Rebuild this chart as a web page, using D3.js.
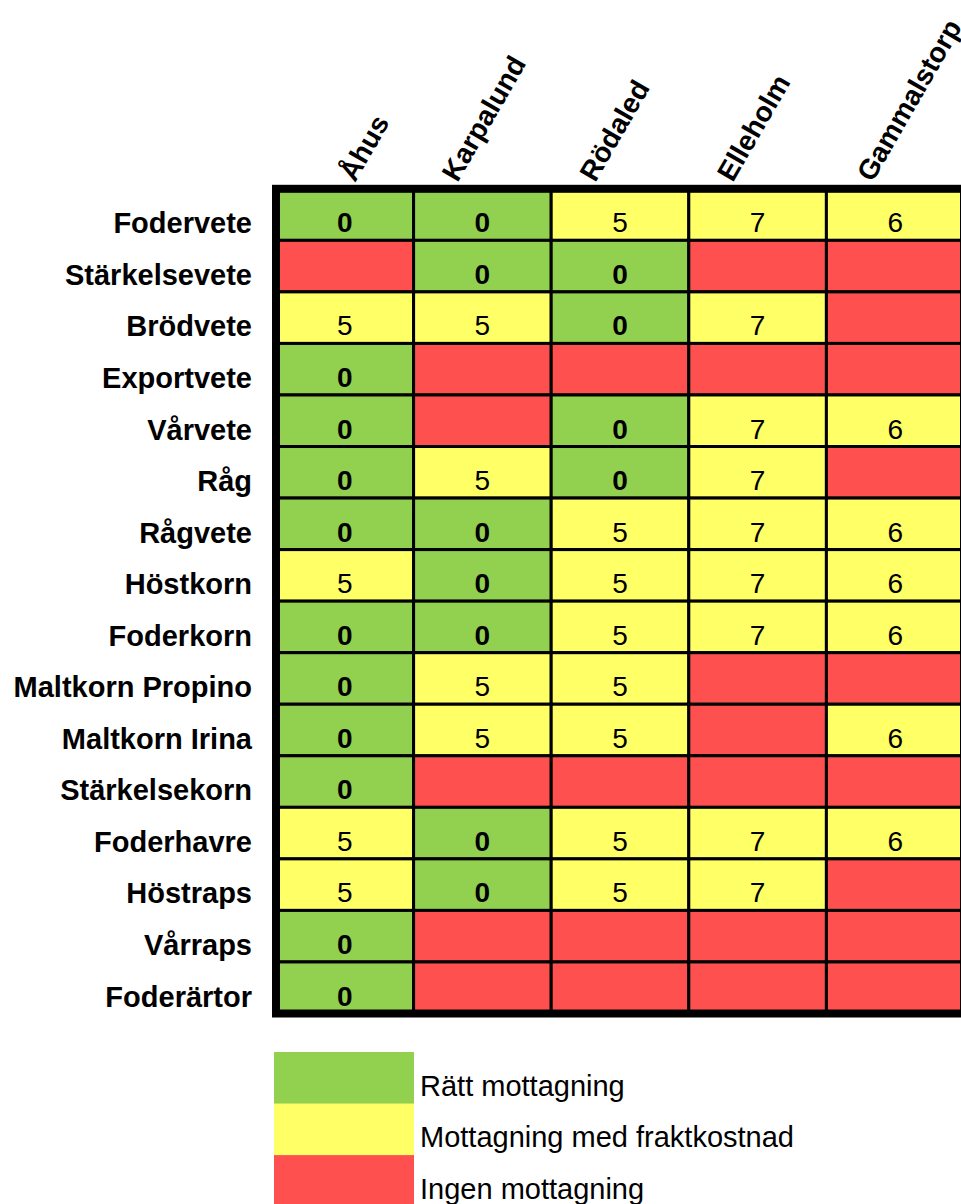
<!DOCTYPE html>
<html>
<head>
<meta charset="utf-8">
<script src="https://cdn.jsdelivr.net/npm/d3@7"></script>
<style>
  body { margin: 0; background: #fff; }
  svg { display: block; font-family: "Liberation Sans", Arial, sans-serif; }
</style>
</head>
<body>
<div id="chart"></div>
<script>
// mottagningsplatser
const sites = ["Åhus", "Karpalund", "Rödaled", "Elleholm", "Gammalstorp"]

// grödor
const crops = ["Fodervete", "Stärkelsevete", "Brödvete", "Exportvete", "Vårvete", "Råg",
    "Rågvete", "Höstkorn", "Foderkorn", "Maltkorn Propino", "Maltkorn Irina",
    "Stärkelsekorn", "Foderhavre", "Höstraps", "Vårraps", "Foderärtor"]

// fraktkostnad per gröda och plats, null = ingen mottagning
const freight = [
    [0, 0, 5, 7, 6],
    [null, 0, 0, null, null],
    [5, 5, 0, 7, null],
    [0, null, null, null, null],
    [0, null, 0, 7, 6],
    [0, 5, 0, 7, null],
    [0, 0, 5, 7, 6],
    [5, 0, 5, 7, 6],
    [0, 0, 5, 7, 6],
    [0, 5, 5, null, null],
    [0, 5, 5, null, 6],
    [0, null, null, null, null],
    [5, 0, 5, 7, 6],
    [5, 0, 5, 7, null],
    [0, null, null, null, null],
    [0, null, null, null, null]
]

const legendLabels = ["Rätt mottagning", "Mottagning med fraktkostnad", "Ingen mottagning"]

const width = 961
const height = 1204
const green = "#92D050", yellow = "#FFFF66", red = "#FF5050"

function cellColor(v) {
    if (v === null) return red
    return v === 0 ? green : yellow
}

const svg = d3.select("#chart").append("svg")
    .attr("width", width)
    .attr("height", height)

const x = d3.scaleBand().domain(sites).range([276, 964])
const y = d3.scaleBand().domain(crops).range([188.8, 1013.5])

const cells = []
crops.forEach((c, i) => {
    sites.forEach((s, j) => {
        cells.push({ crop: c, site: s, value: freight[i][j] })
    })
})

const g = svg.append("g")

g.selectAll("rect.cell")
    .data(cells)
    .enter().append("rect")
    .attr("class", "cell")
    .attr("x", d => x(d.site))
    .attr("y", d => y(d.crop))
    .attr("width", x.bandwidth())
    .attr("height", y.bandwidth())
    .style("fill", d => cellColor(d.value))
    .style("stroke", "#000")
    .style("stroke-width", 3)

// outer thick frame
g.append("rect")
    .attr("x", x.range()[0])
    .attr("y", y.range()[0])
    .attr("width", x.range()[1] - x.range()[0])
    .attr("height", y.range()[1] - y.range()[0])
    .style("fill", "none")
    .style("stroke", "#000")
    .style("stroke-width", 8)

// cell numbers, baseline near cell bottom like excel
g.selectAll("text.val")
    .data(cells.filter(d => d.value !== null))
    .enter().append("text")
    .attr("class", "val")
    .attr("x", d => x(d.site) + x.bandwidth() / 2)
    .attr("y", d => y(d.crop) + y.bandwidth() - 8)
    .attr("text-anchor", "middle")
    .style("font-size", "28px")
    .style("font-weight", d => d.value === 0 ? "bold" : "normal")
    .text(d => d.value)

// row labels
svg.selectAll("text.rowlabel")
    .data(crops)
    .enter().append("text")
    .attr("class", "rowlabel")
    .attr("x", 252)
    .attr("y", d => y(d) + y.bandwidth() - 7)
    .attr("text-anchor", "end")
    .style("font-size", "29px")
    .style("font-weight", "bold")
    .text(d => d)

// rotated column headers
const headerDx = [79, 44, 44, 44, 46]
svg.selectAll("text.collabel")
    .data(sites)
    .enter().append("text")
    .attr("class", "collabel")
    .attr("transform", (d, i) => "translate(" + (x(d) + headerDx[i]) + ",183)rotate(-60)")
    .style("font-size", "28px")
    .style("font-weight", "bold")
    .text(d => d)

// legend
const ly = d3.scaleBand().domain(legendLabels).range([1052, 1052 + 3 * 51.55])
const legendColors = [green, yellow, red]

const legend = svg.append("g")
legend.selectAll("rect")
    .data(legendLabels)
    .enter().append("rect")
    .attr("x", 274)
    .attr("y", d => ly(d))
    .attr("width", 140)
    .attr("height", ly.bandwidth() + 0.5)
    .style("fill", (d, i) => legendColors[i])

legend.selectAll("text")
    .data(legendLabels)
    .enter().append("text")
    .attr("x", 420)
    .attr("y", d => ly(d) + ly.bandwidth() - 8)
    .style("font-size", "29px")
    .text(d => d)
</script>
</body>
</html>
